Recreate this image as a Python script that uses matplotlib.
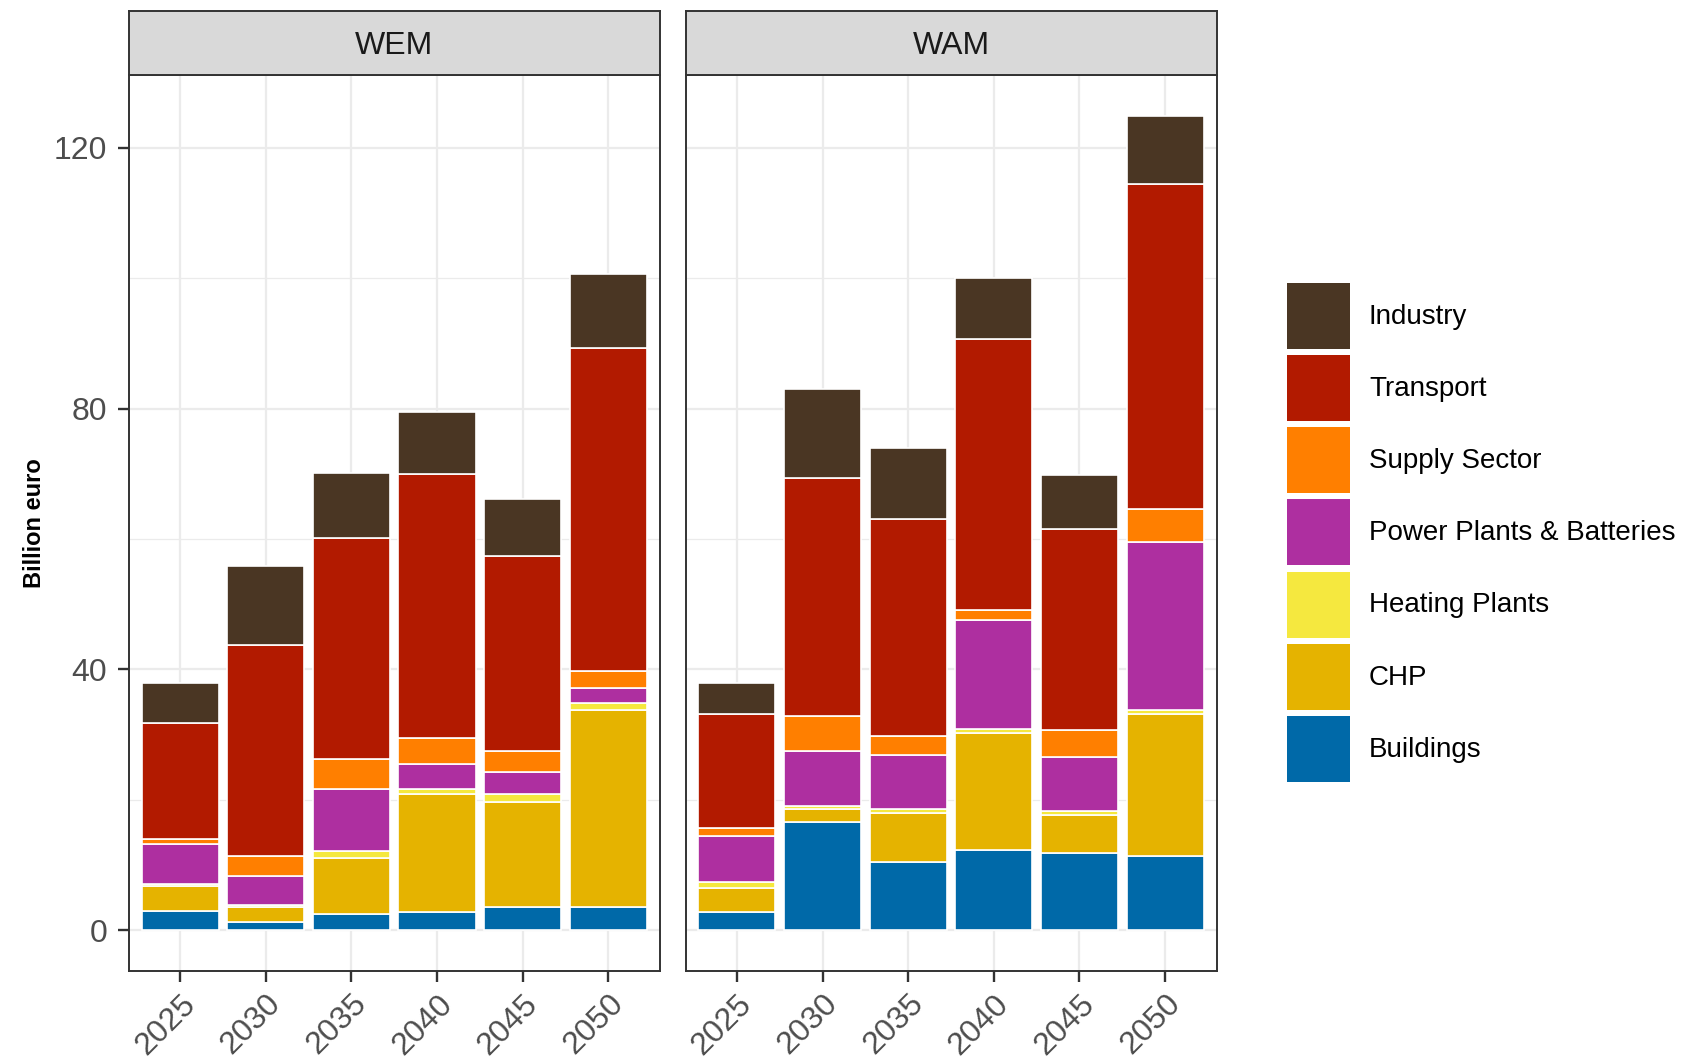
import numpy as np
import matplotlib
matplotlib.use('Agg')
import matplotlib.pyplot as plt
from matplotlib.patches import Patch

plt.rcParams['font.family'] = ['Liberation Sans', 'DejaVu Sans']

years = ['2025', '2030', '2035', '2040', '2045', '2050']
scenarios = ['WEM', 'WAM']

# sectors from bottom of the stack to the top
sectors = ['Buildings', 'CHP', 'Heating Plants', 'Power Plants & Batteries',
           'Supply Sector', 'Transport', 'Industry']
colors = ['#0069A8', '#E5B300', '#F5E83F', '#AE2FA0',
          '#FF7F00', '#B21A00', '#4A3623']

# investment by sector, billion euro
wem_buildings = [2.9, 1.2, 2.4, 2.8, 3.5, 3.6]
wem_chp       = [3.8, 2.4, 8.7, 18.0, 16.2, 30.1]
wem_heating   = [0.4, 0.3, 1.1, 0.8, 1.2, 1.1]
wem_power     = [6.1, 4.4, 9.5, 3.8, 3.4, 2.4]
wem_supply    = [0.8, 3.0, 4.6, 4.0, 3.2, 2.5]
wem_transport = [17.7, 32.5, 33.8, 40.6, 29.9, 49.6]
wem_industry  = [6.2, 12.1, 10.0, 9.5, 8.7, 11.3]

wam_buildings = [2.7, 16.6, 10.5, 12.3, 11.9, 11.4]
wam_chp       = [3.8, 2.0, 7.5, 17.9, 5.8, 21.8]
wam_heating   = [0.8, 0.5, 0.6, 0.7, 0.6, 0.6]
wam_power     = [7.1, 8.4, 8.3, 16.7, 8.3, 25.7]
wam_supply    = [1.2, 5.4, 2.9, 1.5, 4.1, 5.1]
wam_transport = [17.6, 36.5, 33.2, 41.6, 30.8, 49.9]
wam_industry  = [4.7, 13.6, 10.9, 9.3, 8.3, 10.4]

data = {
    'WEM': [wem_buildings, wem_chp, wem_heating, wem_power, wem_supply, wem_transport, wem_industry],
    'WAM': [wam_buildings, wam_chp, wam_heating, wam_power, wam_supply, wam_transport, wam_industry],
}

W, H = 1682, 1061
fig = plt.figure(figsize=(W / 100, H / 100), dpi=100)

ymax = max(np.sum(data[s], axis=0).max() for s in scenarios)
ylim = (-0.05 * ymax, 1.05 * ymax)

panel_left = [128.7, 685.5]
panel_w = 531.0
plot_top, plot_bot = 75.1, 970.8
strip_top = 10.7

x = np.arange(1, len(years) + 1)
axes = []
for i, scen in enumerate(scenarios):
    ax = fig.add_axes([panel_left[i] / W, 1 - plot_bot / H,
                       panel_w / W, (plot_bot - plot_top) / H])
    axes.append(ax)

    bottom = np.zeros(len(years))
    for vals, col in zip(data[scen], colors):
        ax.bar(x, vals, bottom=bottom, width=0.9, color=col,
               edgecolor='white', linewidth=1.2, zorder=3)
        bottom += np.array(vals)

    ax.set_xlim(0.4, len(years) + 0.6)
    ax.set_ylim(*ylim)
    ax.set_xticks(x)
    ax.set_xticklabels(years, rotation=45, ha='right', va='top',
                       rotation_mode='anchor')
    ax.set_yticks([0, 40, 80, 120])
    ax.set_yticks([20, 60, 100], minor=True)
    ax.grid(True, which='major', color='#EBEBEB', linewidth=1.6, zorder=0)
    ax.grid(True, which='minor', axis='y', color='#EBEBEB', linewidth=0.9, zorder=0)
    ax.tick_params(axis='both', which='major', length=8, width=1.7,
                   color='#333333', labelsize=23, labelcolor='#4D4D4D')
    ax.tick_params(axis='x', pad=5)
    ax.tick_params(axis='y', pad=7.5)
    ax.tick_params(axis='y', which='minor', length=0)
    for sp in ax.spines.values():
        sp.set_color('#333333')
        sp.set_linewidth(1.4)
    if i > 0:
        ax.tick_params(axis='y', which='both', left=False, labelleft=False)

    # facet strip
    sax = fig.add_axes([panel_left[i] / W, 1 - plot_top / H,
                        panel_w / W, (plot_top - strip_top) / H])
    sax.set_facecolor('#D9D9D9')
    sax.set_xticks([])
    sax.set_yticks([])
    for sp in sax.spines.values():
        sp.set_color('#333333')
        sp.set_linewidth(1.4)
    sax.text(0.5, 0.45, scen, ha='center', va='center', fontsize=23,
             color='#1A1A1A', transform=sax.transAxes)

axes[0].set_ylabel('Billion euro', fontsize=17, fontweight='bold', color='black')
axes[0].yaxis.set_label_coords(-0.156, 0.5)

handles = [Patch(facecolor=c, edgecolor='none', label=s)
           for s, c in zip(sectors, colors)][::-1]
fig.legend(handles=handles, loc='upper left',
           bbox_to_anchor=(1287 / W, 1 - 283 / H), frameon=False,
           fontsize=20, handlelength=2.27, handleheight=3.28,
           labelspacing=0.22, handletextpad=0.68, borderpad=0,
           borderaxespad=0)

fig.savefig('out.png', dpi=100)
